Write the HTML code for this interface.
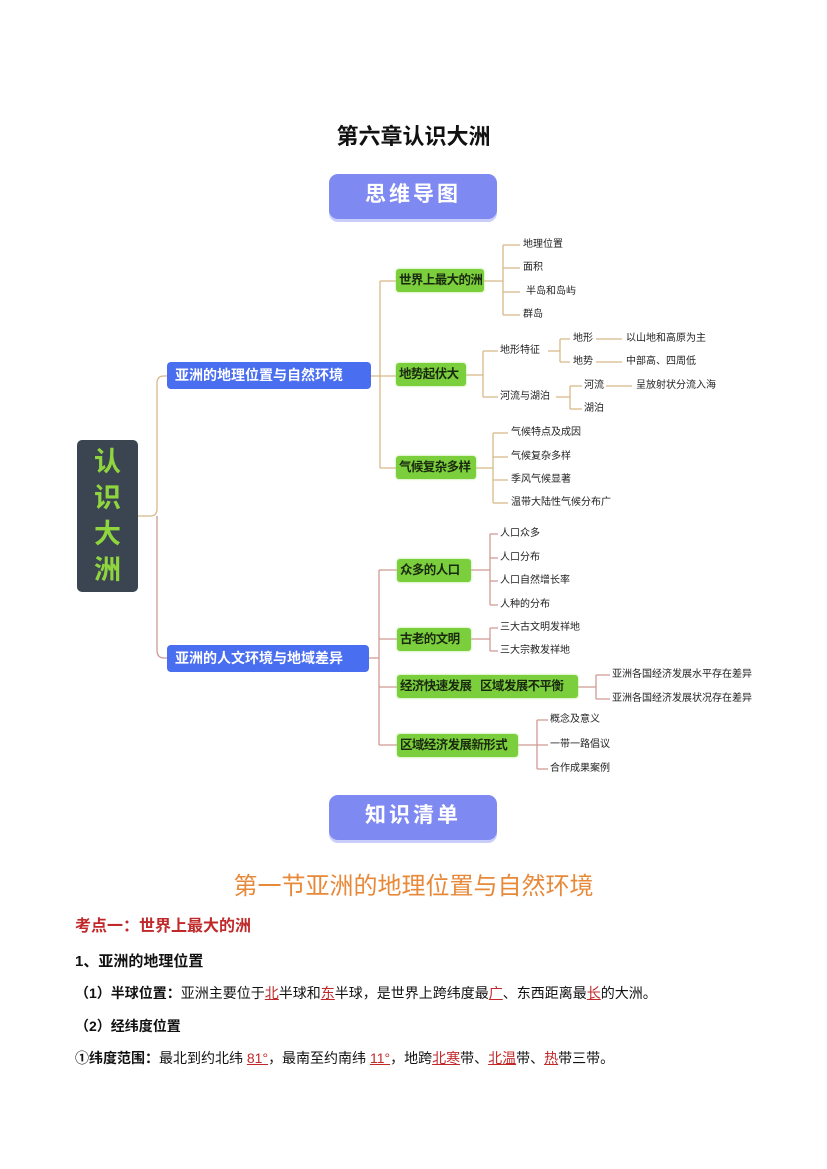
<!DOCTYPE html>
<html><head><meta charset="utf-8"><style>
body{margin:0;width:827px;height:1169px;background:#fff;position:relative;font-family:"Liberation Sans","Noto Sans CJK SC",sans-serif;overflow:hidden}
.a{position:absolute;white-space:nowrap}
.t{position:absolute;white-space:nowrap;font-size:10px;color:#222;line-height:12px;transform:translateY(-6px)}
.g{position:absolute;white-space:nowrap;overflow:hidden;background:#7ccf3c;border-radius:3px;font-weight:bold;font-size:12.5px;letter-spacing:-0.6px;color:#1a2a10;line-height:23px;height:23px;padding-left:3px;box-sizing:border-box;box-shadow:0 0 2px #a9e27a}
.b{position:absolute;white-space:nowrap;background:#4a6ef0;border-radius:4px;font-weight:bold;font-size:14px;color:#fff;line-height:27px;height:27px;padding-left:8px;box-sizing:border-box}
.ban{position:absolute;left:329px;width:168px;height:45px;background:#7f89f2;border-radius:9px;color:#fff;font-weight:bold;font-size:21px;text-align:center;line-height:42px;letter-spacing:3px;box-shadow:0 3px 0 #c9cdfa}
.r{color:#c0282a;text-decoration:underline}
</style></head><body>
<div class="a" style="left:0;width:827px;text-align:center;top:119px;font-size:22px;font-weight:bold;color:#111">第六章认识大洲</div>
<div class="ban" style="top:174px">思维导图</div>
<svg class="a" style="left:0;top:0" width="827" height="800" fill="none" stroke-width="1.3">
<g stroke="#d8b98a">
<path d="M138 516H150Q157 516 157 509V383Q157 376 164 376H167"/>
<path d="M371 376H380M380 281V468M380 281H396M380 468H396M371 376H396"/>
<path d="M484 281H503M503 245V315M503 245H520M503 268H520M503 292H520M503 315H520"/>
<path d="M466 375H483M483 351V397M483 351H498M483 397H498"/>
<path d="M548 351H560M560 339V362M560 339H570M560 362H570M596 339H622M596 362H622"/>
<path d="M556 397H570M570 386V409M570 386H582M570 409H582M606 386H632"/>
<path d="M476 468H493M493 433V503M493 433H508M493 457H508M493 480H508M493 503H508"/>
</g>
<g stroke="#cf9a95">
<path d="M157 516V650Q157 658 164 658H167"/>
<path d="M369 658H379M379 570V745M379 570H397M379 639H397M379 687H397M379 745H397"/>
<path d="M471 570H490M490 534V605M490 534H498M490 558H498M490 581H498M490 605H498"/>
<path d="M471 639H490M490 628V651M490 628H498M490 651H498"/>
<path d="M578 687H596M596 675V699M596 675H610M596 699H610"/>
<path d="M518 745H537M537 720V769M537 720H548M537 745H548M537 769H548"/>
</g>
</svg>
<div class="a" style="left:77px;top:440px;width:61px;height:152px;background:#3b4552;border-radius:5px;color:#8fd63e;font-size:27px;font-weight:bold;text-align:center;line-height:36px;padding-top:4px;box-sizing:border-box">认<br>识<br>大<br>洲</div>
<div class="b" style="left:167px;top:362px;width:204px">亚洲的地理位置与自然环境</div>
<div class="b" style="left:167px;top:645px;width:202px">亚洲的人文环境与地域差异</div>
<div class="g" style="left:396px;top:269px;width:88px">世界上最大的洲</div>
<div class="g" style="left:396px;top:363px;width:70px">地势起伏大</div>
<div class="g" style="left:396px;top:456px;width:80px">气候复杂多样</div>
<div class="g" style="left:397px;top:559px;width:74px">众多的人口</div>
<div class="g" style="left:397px;top:628px;width:74px">古老的文明</div>
<div class="g" style="left:397px;top:675px;width:181px">经济快速发展&nbsp;&nbsp;&nbsp;区域发展不平衡</div>
<div class="g" style="left:397px;top:734px;width:121px">区域经济发展新形式</div>
<div class="t" style="left:523px;top:245px">地理位置</div>
<div class="t" style="left:523px;top:268px">面积</div>
<div class="t" style="left:526px;top:292px">半岛和岛屿</div>
<div class="t" style="left:523px;top:315px">群岛</div>
<div class="t" style="left:500px;top:351px">地形特征</div>
<div class="t" style="left:500px;top:397px">河流与湖泊</div>
<div class="t" style="left:573px;top:339px">地形</div>
<div class="t" style="left:573px;top:362px">地势</div>
<div class="t" style="left:626px;top:339px">以山地和高原为主</div>
<div class="t" style="left:626px;top:362px">中部高、四周低</div>
<div class="t" style="left:584px;top:386px">河流</div>
<div class="t" style="left:584px;top:409px">湖泊</div>
<div class="t" style="left:636px;top:386px">呈放射状分流入海</div>
<div class="t" style="left:511px;top:433px">气候特点及成因</div>
<div class="t" style="left:511px;top:457px">气候复杂多样</div>
<div class="t" style="left:511px;top:480px">季风气候显著</div>
<div class="t" style="left:511px;top:503px">温带大陆性气候分布广</div>
<div class="t" style="left:500px;top:534px">人口众多</div>
<div class="t" style="left:500px;top:558px">人口分布</div>
<div class="t" style="left:500px;top:581px">人口自然增长率</div>
<div class="t" style="left:500px;top:605px">人种的分布</div>
<div class="t" style="left:500px;top:628px">三大古文明发祥地</div>
<div class="t" style="left:500px;top:651px">三大宗教发祥地</div>
<div class="t" style="left:612px;top:675px">亚洲各国经济发展水平存在差异</div>
<div class="t" style="left:612px;top:699px">亚洲各国经济发展状况存在差异</div>
<div class="t" style="left:550px;top:720px">概念及意义</div>
<div class="t" style="left:550px;top:745px">一带一路倡议</div>
<div class="t" style="left:550px;top:769px">合作成果案例</div>
<div class="ban" style="top:795px">知识清单</div>
<div class="a" style="left:0;width:827px;text-align:center;top:866px;font-size:24px;color:#e8893a">第一节亚洲的地理位置与自然环境</div>
<div class="a" style="left:75px;top:912px;font-size:16px;font-weight:bold;color:#c0282a">考点一：世界上最大的洲</div>
<div class="a" style="left:75px;top:950px;font-size:15px;font-weight:bold;color:#111">1、亚洲的地理位置</div>
<div class="a" style="left:75px;top:983px;font-size:14px;color:#111"><b>（1）半球位置：</b>亚洲主要位于<span class="r">北</span>半球和<span class="r">东</span>半球，是世界上跨纬度最<span class="r">广</span>、东西距离最<span class="r">长</span>的大洲。</div>
<div class="a" style="left:75px;top:1016px;font-size:14px;font-weight:bold;color:#111">（2）经纬度位置</div>
<div class="a" style="left:75px;top:1048px;font-size:14px;color:#111"><b>①纬度范围：</b>最北到约北纬 <span class="r">81°</span>，最南至约南纬 <span class="r">11°</span>，地跨<span class="r">北寒</span>带、<span class="r">北温</span>带、<span class="r">热</span>带三带。</div>
</body></html>
